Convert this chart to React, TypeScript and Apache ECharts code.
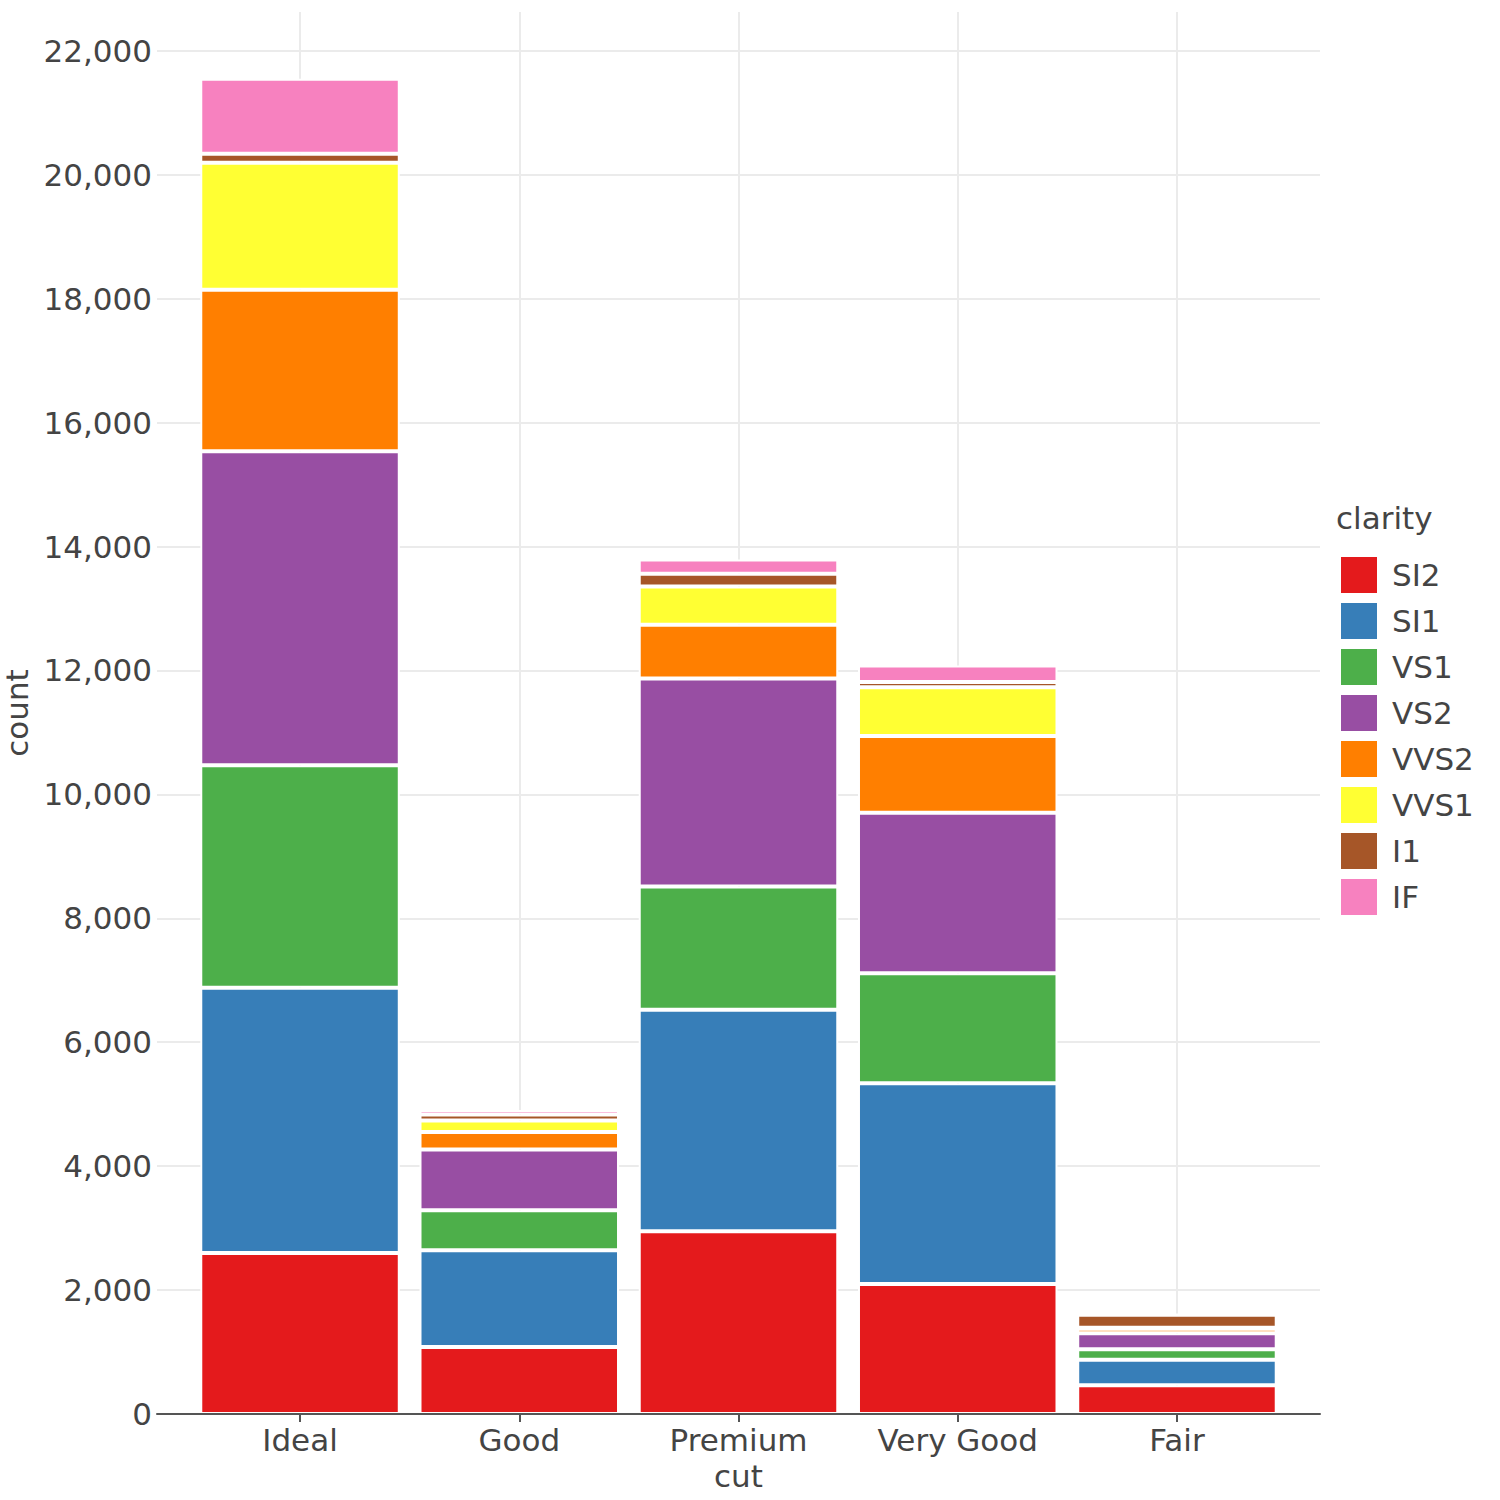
import React, { useEffect, useRef } from "react";
import * as echarts from "echarts";

const categories = ["Ideal", "Good", "Premium", "Very Good", "Fair"];
const clarityNames = ["SI2", "SI1", "VS1", "VS2", "VVS2", "VVS1", "I1", "IF"];
const SI2 = [2598, 1081, 2949, 2100, 466];
const SI1 = [4282, 1560, 3575, 3240, 408];
const VS1 = [3589, 648, 1989, 1775, 170];
const VS2 = [5071, 978, 3357, 2591, 261];
const VVS2 = [2606, 286, 870, 1235, 69];
const VVS1 = [2047, 186, 616, 789, 17];
const I1 = [146, 96, 205, 84, 210];
const IF = [1212, 71, 230, 268, 9];
const seriesValues = [SI2, SI1, VS1, VS2, VVS2, VVS1, I1, IF];
const colors = ["#E41A1C", "#377EB8", "#4DAF4A", "#984EA3", "#FF7F00", "#FFFF33", "#A65628", "#F781BF"];
const yMax = 22628;
const yInterval = 2000;

const FONT = "DejaVu Sans";
const TXT = "#444444";

export default function App() {
  const ref = useRef<HTMLDivElement>(null);
  useEffect(() => {
    document.body.style.margin = "0";
    const chart = echarts.init(ref.current!, null, { renderer: "svg" });
    const option: any = {
      animation: false,
      backgroundColor: "#ffffff",
      textStyle: { fontFamily: FONT },
      color: colors,
      title: {
        text: "clarity",
        left: 1336,
        top: 502,
        padding: 0,
        textStyle: { fontFamily: FONT, fontSize: 31, fontWeight: "normal", color: TXT },
      },
      legend: {
        orient: "vertical",
        left: 1341,
        top: 557,
        padding: 0,
        itemWidth: 36,
        itemHeight: 36,
        itemGap: 10,
        icon: "rect",
        itemStyle: { borderWidth: 0 },
        textStyle: { fontFamily: FONT, fontSize: 31, color: TXT, padding: [0, 0, 0, 10] },
        data: clarityNames,
      },
      grid: [
        { left: 157, right: 180, top: 12, bottom: 86, outerBoundsMode: "none", containLabel: false },
        { left: 190.4, right: 213.4, top: 12, bottom: 86, outerBoundsMode: "none", containLabel: false },
      ],
      xAxis: [
        {
          type: "value",
          gridIndex: 0,
          min: 0,
          max: 1,
          z: 10,
          axisLine: { show: true, lineStyle: { color: "#555555", width: 2 } },
          axisTick: { show: false },
          axisLabel: { show: false },
          splitLine: { show: false },
        },
        {
          type: "category",
          gridIndex: 1,
          data: categories,
          name: "cut",
          nameLocation: "middle",
          nameGap: 46,
          nameTextStyle: { fontFamily: FONT, fontSize: 31, color: TXT },
          axisLine: { show: false },
          axisTick: { show: true, alignWithLabel: true, length: 8, lineStyle: { color: "#555555", width: 2 } },
          axisLabel: { fontFamily: FONT, fontSize: 31, color: TXT, margin: 10 },
          splitLine: { show: true, alignWithLabel: true, lineStyle: { color: "#EBEBEB", width: 2 } },
        },
      ],
      yAxis: [
        {
          type: "value",
          gridIndex: 0,
          min: 0,
          max: yMax,
          interval: yInterval,
          name: "count",
          nameLocation: "middle",
          nameGap: 120,
          nameTextStyle: { fontFamily: FONT, fontSize: 31, color: TXT },
          axisLine: { show: false },
          axisTick: { show: false },
          axisLabel: {
            fontFamily: FONT,
            fontSize: 31,
            color: TXT,
            margin: 5,
            showMaxLabel: false,
            formatter: (v: number) => (v % yInterval === 0 ? v.toLocaleString("en-US") : ""),
          },
          splitLine: { show: true, showMaxLine: false, lineStyle: { color: "#EBEBEB", width: 2 } },
        },
        {
          type: "value",
          gridIndex: 1,
          min: 0,
          max: yMax,
          show: false,
          splitLine: { show: false },
        },
      ],
      series: clarityNames.map((name, i) => ({
        name,
        type: "bar",
        stack: "total",
        xAxisIndex: 1,
        yAxisIndex: 1,
        barWidth: "91%",
        data: seriesValues[i],
        itemStyle: { color: colors[i], borderColor: "#ffffff", borderWidth: 2 },
      })),
    };
    chart.setOption(option);
    return () => chart.dispose();
  }, []);
  return <div ref={ref} style={{ width: 1500, height: 1500 }} />;
}
